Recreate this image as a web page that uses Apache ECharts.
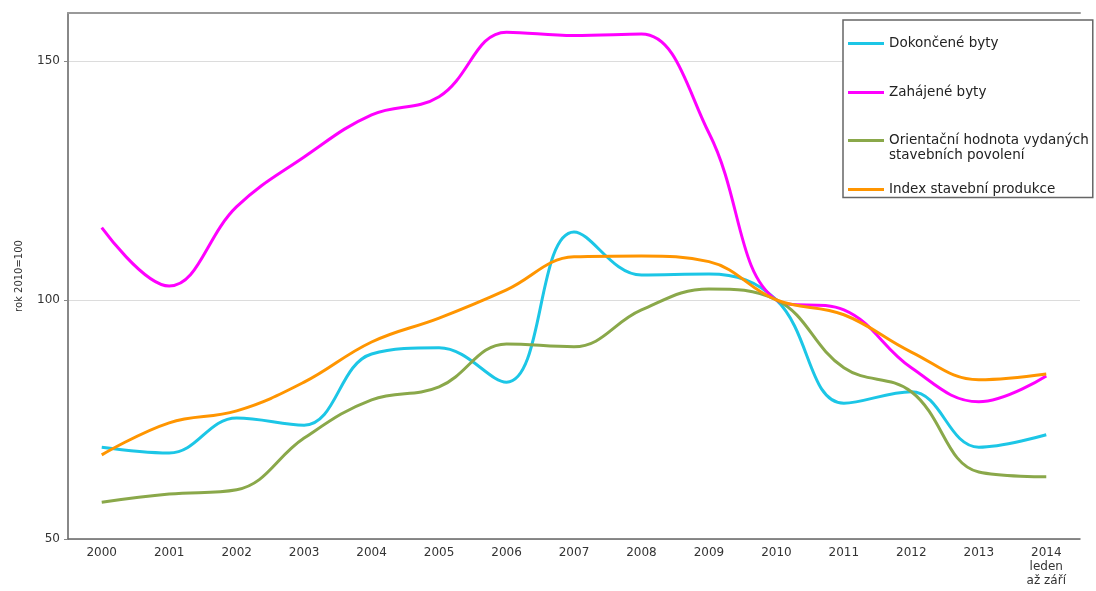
<!DOCTYPE html>
<html>
<head>
<meta charset="utf-8">
<script src="https://cdn.jsdelivr.net/npm/echarts@6/dist/echarts.min.js"></script>
<style>
  html, body { margin: 0; padding: 0; background: #fff; }
  #chart { width: 1096px; height: 591px; }
</style>
</head>
<body>
<div id="chart"></div>
<script>
// roky (poslední = leden až září 2014)
const years = ['2000', '2001', '2002', '2003', '2004', '2005', '2006', '2007',
  '2008', '2009', '2010', '2011', '2012', '2013', '2014\nleden\naž září']

// index, rok 2010 = 100
const dokoncene = [69.2, 68.0, 75.3, 73.8, 88.7, 90.0, 82.8, 114.2, 105.2, 105.4, 100, 78.4, 80.8, 69.2, 71.8]
const zahajene = [115.1, 102.9, 119.5, 129.9, 138.7, 142.5, 156.0, 155.3, 155.6, 134.9, 100, 97.9, 85.8, 78.7, 84.1]
const povoleni = [57.7, 59.4, 60.3, 71.1, 79.1, 81.8, 90.8, 90.2, 97.9, 102.3, 100, 85.8, 80.8, 64.0, 63.0]
const produkce = [67.6, 74.3, 76.8, 82.8, 91.2, 96.2, 102.1, 109.0, 109.2, 108.0, 100, 96.9, 89.1, 83.3, 84.5]

const names = ['Dokončené byty', 'Zahájené byty',
  'Orientační hodnota vydaných\nstavebních povolení', 'Index stavební produkce']

const font = 'DejaVu Sans, Liberation Sans, Arial, sans-serif'

const chart = echarts.init(document.getElementById('chart'))

const mkLine = (name, data, color) => ({
  name: name,
  type: 'line',
  data: data,
  smooth: 0.4,
  symbol: 'none',
  lineStyle: { color: color, width: 3 },
  itemStyle: { color: color }
})

const option = {
  animation: false,
  textStyle: { fontFamily: font },
  grid: { left: 68, right: 16, top: 13, bottom: 52 },
  legend: {
    orient: 'vertical',
    left: 843,
    top: 20,
    padding: [0, 4, 0, 5],
    itemGap: 18.5,
    itemWidth: 36,
    itemHeight: 3,
    icon: 'rect',
    backgroundColor: '#fff',
    borderColor: '#666',
    borderWidth: 1.5,
    textStyle: { fontFamily: font, fontSize: 13.5, color: '#222', lineHeight: 15 },
    // dvouřádková položka: první řádek u čáry
    formatter: function (name) {
      return name === names[2] ? '\n' + name : name
    },
    data: [
      { name: names[0], textStyle: { lineHeight: 47 } },
      { name: names[1], textStyle: { lineHeight: 6 } },
      { name: names[2] },
      { name: names[3], textStyle: { lineHeight: 16 } }
    ]
  },
  xAxis: [
    {
      type: 'category',
      data: years,
      boundaryGap: true,
      axisLine: { lineStyle: { color: '#666', width: 1.5 } },
      axisTick: { length: 4, lineStyle: { color: '#666' } },
      axisLabel: { color: '#333', fontSize: 12, margin: 7, lineHeight: 14, interval: 0 }
    },
    {
      // horní okraj grafu
      type: 'category',
      data: years,
      position: 'top',
      axisLine: { lineStyle: { color: '#999', width: 2 } },
      axisTick: { show: false },
      axisLabel: { show: false }
    }
  ],
  yAxis: {
    type: 'value',
    min: 50,
    max: 160,
    interval: 50,
    name: 'rok 2010=100',
    nameLocation: 'middle',
    nameRotate: 90,
    nameGap: 44,
    nameTextStyle: { color: '#333', fontSize: 10 },
    axisLine: { show: true, lineStyle: { color: '#888', width: 2 } },
    axisTick: { show: true, length: 4, lineStyle: { color: '#888' } },
    axisLabel: { color: '#333', fontSize: 12, margin: 8, showMaxLabel: false },
    splitLine: { lineStyle: { color: '#dcdcdc', width: 1 } }
  },
  series: [
    mkLine(names[0], dokoncene, '#1cc6e6'),
    mkLine(names[1], zahajene, '#ff00ff'),
    mkLine(names[2], povoleni, '#8aa84a'),
    mkLine(names[3], produkce, '#ff9500')
  ]
}

chart.setOption(option)
</script>
</body>
</html>
